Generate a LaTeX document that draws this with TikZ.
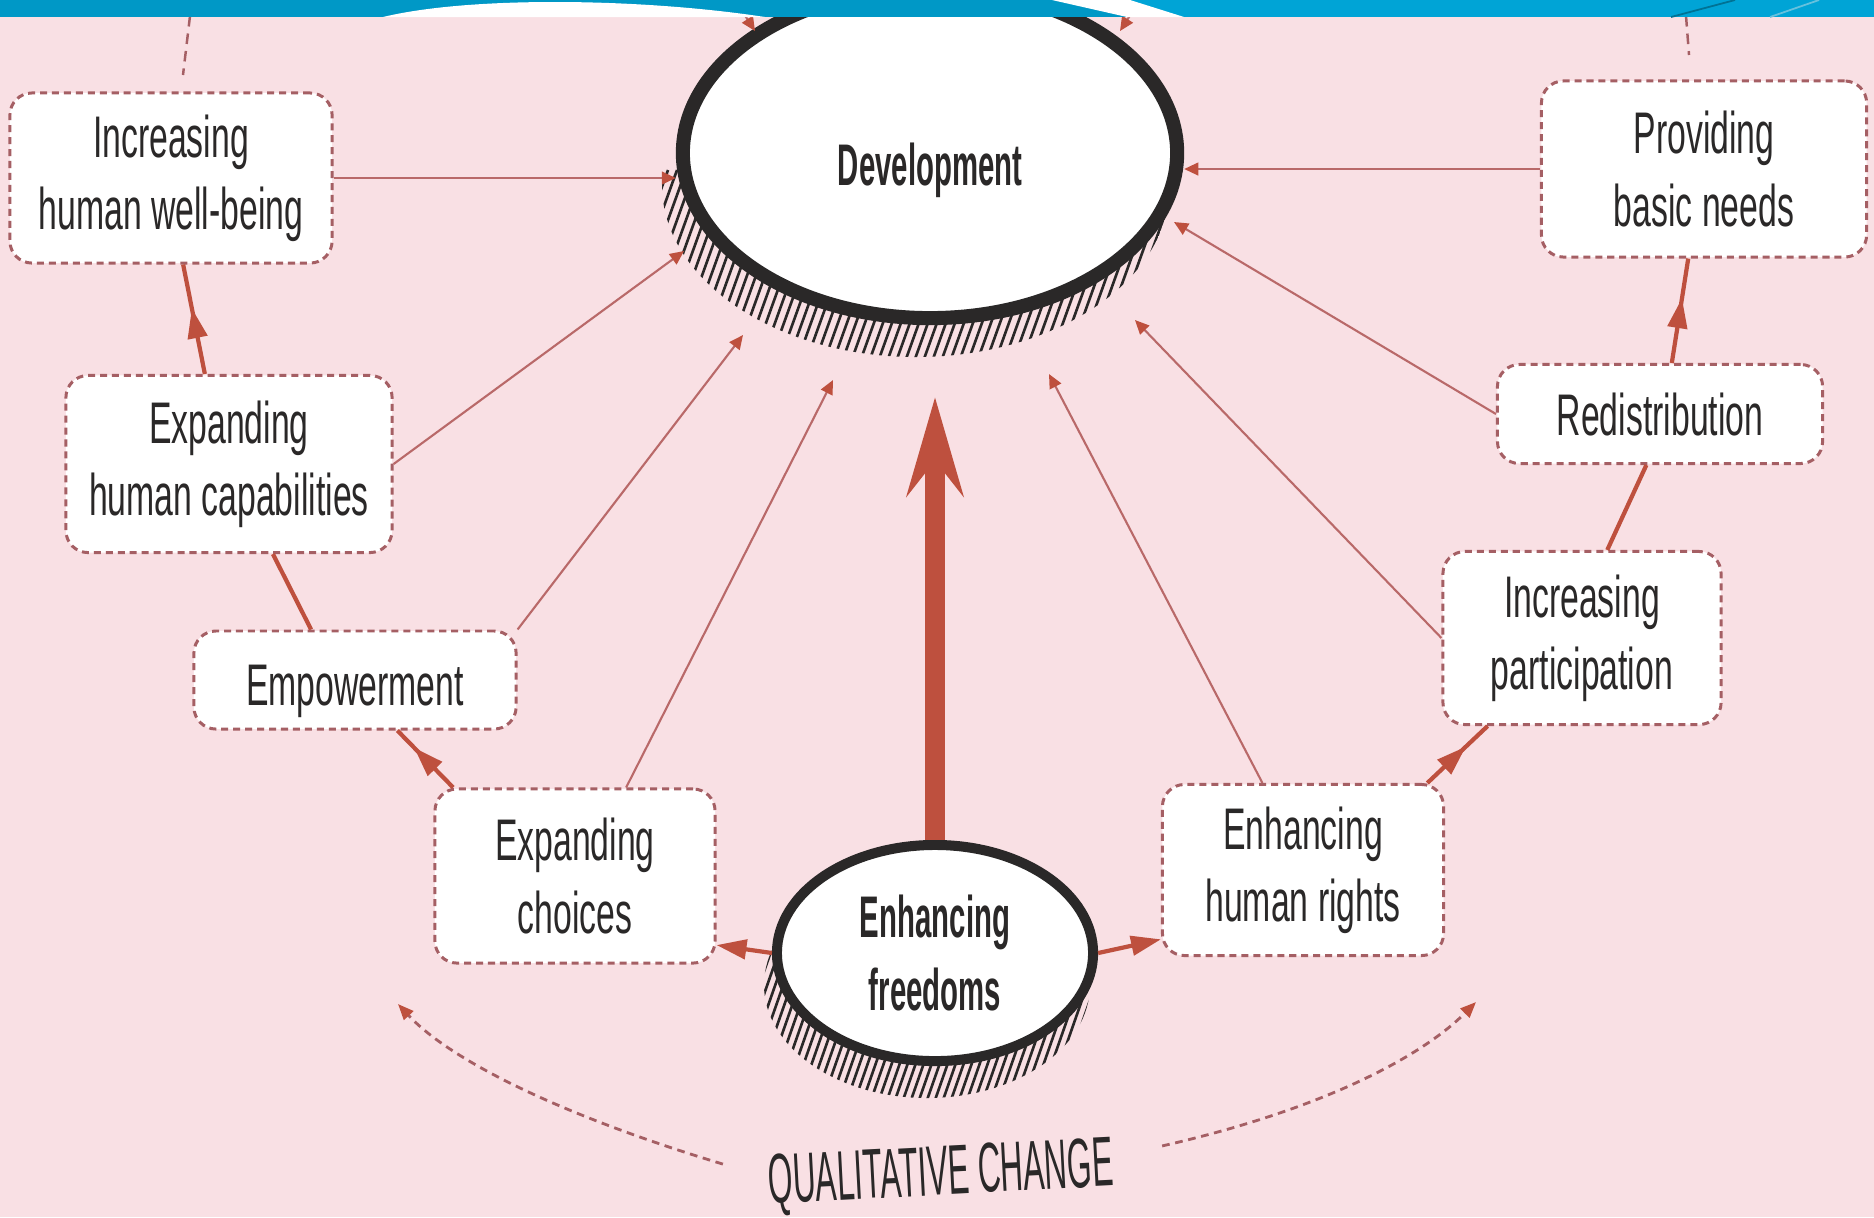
\documentclass[tikz,border=0pt]{standalone}
\usepackage{fontspec}
\newfontfamily\boxfont[FakeStretch=0.575]{Liberation Sans}
\newfontfamily\narrowfont[FakeStretch=0.5]{Liberation Sans}
\newfontfamily\qcfont[FakeStretch=0.45]{Liberation Sans}
\usetikzlibrary{arrows.meta, shapes.geometric, calc, decorations.markings, backgrounds}

\definecolor{bgpink}{RGB}{249,224,228}
\definecolor{boxline}{RGB}{165,95,100}
\definecolor{arrred}{RGB}{190,80,62}
\definecolor{thinred}{RGB}{185,105,105}
\definecolor{ink}{RGB}{42,40,40}
\definecolor{bandblue}{RGB}{0,152,198}
\definecolor{bandblue2}{RGB}{0,164,214}

\begin{document}
\begin{tikzpicture}[
        x=0.01cm, y=-0.01cm,
        b/.style={draw=boxline, line width=0.85pt, dash pattern=on 2pt off 1.4pt,
            fill=white, rounded corners=0.22cm, align=center, text=ink, inner sep=0pt,
            font={\boxfont\fontsize{16.7pt}{20.5pt}\selectfont}},
        o/.style={ellipse, draw=ink, fill=white, align=center, text=ink, inner sep=0pt,
            font={\narrowfont\bfseries\fontsize{16.7pt}{20.5pt}\selectfont}},
        ta/.style={draw=thinred, line width=0.6pt, -{Triangle[length=4pt, width=3.6pt, color=arrred]}},
        tl/.style={draw=arrred, line width=1.2pt},
        ea/.style={tl, -{Triangle[length=8.5pt, width=5.5pt]}},
        ma/.style={tl, postaction={decorate}, decoration={markings,
            mark=at position #1 with {\arrow{Triangle[length=8.5pt, width=5.5pt, color=arrred]}}}},
        big/.style={draw=arrred, line width=5.5pt, -{Stealth[length=28pt, width=16pt, inset=10pt]}},
        qd/.style={draw=boxline, line width=0.8pt, dash pattern=on 2.2pt off 1.6pt,
            -{Triangle[length=4.5pt, width=3.6pt, color=arrred]}},
        qdl/.style={draw=boxline, line width=0.7pt, dash pattern=on 3pt off 2pt},
        hatch/.style={draw=ink, line width=0.75pt}
    ]
        \useasboundingbox (0,0) rectangle (1874,1217);

        % boxes
        \node[b, minimum width=3.22cm, minimum height=1.70cm] (well)   at (171,178)  {Increasing\\human well-being};
        \node[b, minimum width=3.26cm, minimum height=1.77cm] (cap)    at (229,464)  {Expanding\\human capabilities};
        \node[b, minimum width=3.22cm, minimum height=0.98cm,
              execute at begin node={\rule{0pt}{17.7pt}}]     (emp)    at (355,680)  {Empowerment};
        \node[b, minimum width=2.80cm, minimum height=1.74cm] (choice) at (575,876)  {Expanding\\choices};
        \node[b, minimum width=2.81cm, minimum height=1.71cm] (rights) at (1303,870) {Enhancing\\human rights};
        \node[b, minimum width=2.78cm, minimum height=1.73cm] (part)   at (1582,638) {Increasing\\participation};
        \node[b, minimum width=3.25cm, minimum height=0.99cm] (redis)  at (1660,414) {Redistribution};
        \node[b, minimum width=3.25cm, minimum height=1.76cm] (basic)  at (1704,169) {Providing\\basic needs};

        % the two ovals
        \node[o, minimum width=4.94cm, minimum height=3.30cm, line width=4pt,
              execute at begin node={\rule{0pt}{21.7pt}}]                        (dev)  at (930,153) {Development};
        \node[o, minimum width=3.16cm, minimum height=2.16cm, line width=2.85pt] (free) at (935,953) {Enhancing\\freedoms};

        \node[font={\qcfont\fontsize{20pt}{22pt}\selectfont}, text=ink, rotate=3, inner sep=0pt] (qc) at (941,1177) {QUALITATIVE CHANGE};

        % hatching under the ovals
        \begin{pgfonlayer}{background}
            \fill[bgpink] (0,0) rectangle (1874,1217);
            \begin{scope}
                \clip ($(dev)+(-14,32)$) ellipse [x radius=254, y radius=172];
                \foreach \x in {560,569,...,1200}
                    \draw[hatch] (\x,420) -- ++(90,-250);
            \end{scope}
            \begin{scope}
                \clip ($(free)+(-8,32)$) ellipse [x radius=163, y radius=113];
                \foreach \x in {680,688,...,1110}
                    \draw[hatch] (\x,1120) -- ++(70,-200);
            \end{scope}
        \end{pgfonlayer}

        % thin arrows into Development
        \coordinate (ul) at (735,0);
        \coordinate (ur) at (1140,0);
        \draw[ta] (well.east) -- (well.east -| dev.west);
        \draw[ta] (cap.east) -- ($(dev)+(-246,98)$);
        \draw[ta] (emp.north east) -- ($(dev)+(-187,182)$);
        \draw[ta] (choice.60) -- ($(dev)+(-97,227)$);
        \draw[ta] (rights.115) -- ($(dev)+(119,221)$);
        \draw[ta] (part.west) -- ($(dev)+(205,167)$);
        \draw[ta] (redis.west) -- ($(dev)+(244,69)$);
        \draw[ta] (basic.west) -- (basic.west -| dev.east);
        \draw[ta] (ul) -- ($(dev)+(-175,-122)$);
        \draw[ta] (ur) -- ($(dev)+(190,-122)$);

        % main arrow
        \coordinate (tip) at ($(dev.south)+(5,72)$);
        \draw[big] (free.north) -- (free.north |- tip);

        % chains left and right
        \draw[ea] (free.west) -- (choice.-26.5);
        \draw[ma=0.7] (choice.144) -- (emp.-50);
        \draw[tl] (emp.131) -- (cap.-64);
        \draw[ma=0.6] (cap.105) -- (well.-82);
        \draw[ea] (free.east) -- (rights.206);
        \draw[ma=0.64] (rights.35.5) -- (part.223);
        \draw[tl] (part.74) -- (redis.-105);
        \draw[ma=0.62] (redis.77) -- (basic.-100);

        % qualitative change
        \coordinate (qcl) at (398,1004);
        \coordinate (qcr) at (1476,1002);
        \draw[qd] ($(qc.west)+(-45,-22)$) .. controls (560,1115) and (450,1060) .. (qcl);
        \draw[qd] ($(qc.east)+(48,-22)$) .. controls (1320,1110) and (1420,1058) .. (qcr);

        % loose dashed ends at the top
        \coordinate (dl1) at (190,16);
        \coordinate (dl2) at (183,75);
        \coordinate (dr1) at (1686,16);
        \coordinate (dr2) at (1689,55);
        \draw[qdl] (dl1) -- (dl2);
        \draw[qdl] (dr1) -- (dr2);

        % blue band
        \fill[bandblue] (0,0) rectangle (1130,17);
        \fill[bandblue2] (1130,0) rectangle (1874,17);
        \fill[white] (383,17) .. controls (470,-4) and (640,-2) .. (765,17) -- cycle;
        \fill[white] (1052,0) -- (1130,0) -- (1184,17) -- (1127,17) -- cycle;
        \draw[bandblue!75!black, line width=0.5pt] (1671,17) -- (1735,0);
        \draw[bandblue!60!white, line width=0.5pt] (1770,17) -- (1819,0);
    \end{tikzpicture}
\end{document}
